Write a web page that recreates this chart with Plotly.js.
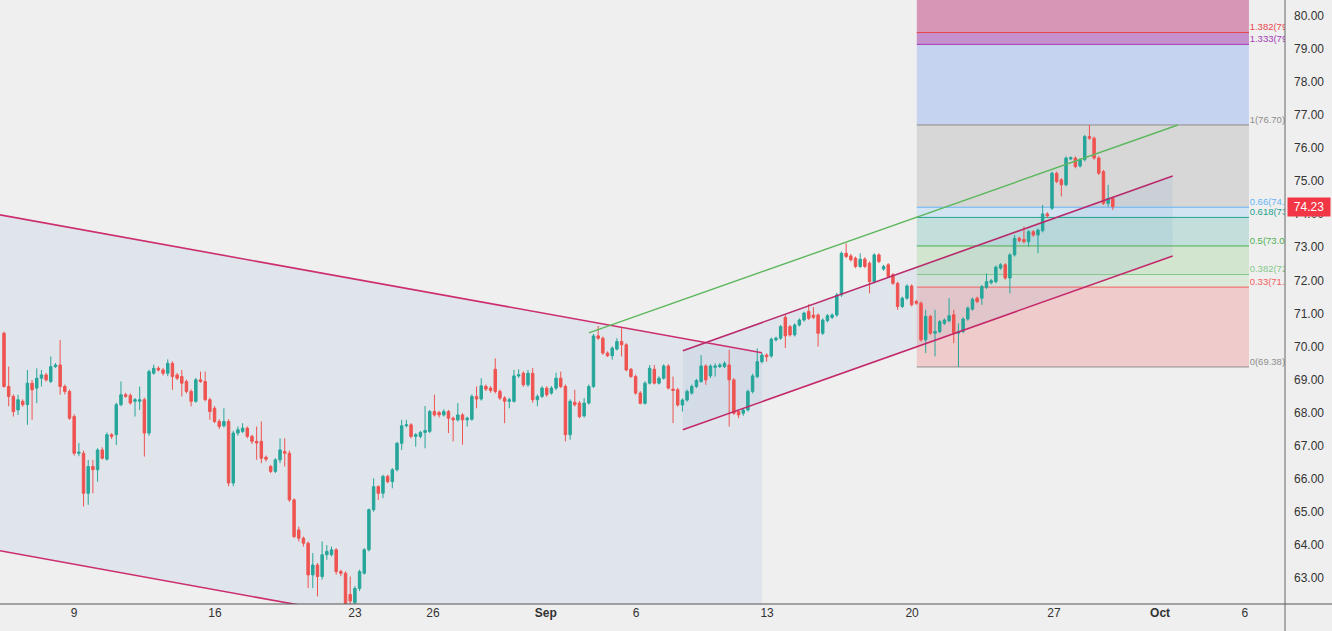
<!DOCTYPE html>
<html>
<head>
<meta charset="utf-8">
<script src="https://cdn.plot.ly/plotly-3.0.1.min.js"></script>
<style>
html,body{margin:0;padding:0;background:#efefef;}
#chart{width:1332px;height:631px;}
</style>
</head>
<body>
<div id="chart"></div>
<script>
// ---- 4h candles ----
const openP = [70.40,68.79,68.49,68.08,68.34,68.24,68.89,68.74,69.04,69.14,68.94,69.39,69.44,68.79,68.64,67.88,66.77,66.77,65.56,66.37,66.27,66.87,66.59,67.33,67.33,68.24,68.54,68.52,68.34,68.34,68.39,67.38,69.19,69.34,69.29,69.19,69.49,69.14,69.09,68.94,68.64,68.34,68.99,68.94,68.39,68.13,67.73,67.60,67.73,65.87,67.38,67.43,67.53,67.28,67.13,67.13,66.65,66.37,66.22,66.57,66.82,66.77,65.36,64.45,64.20,64.05,63.09,63.39,63.04,63.70,63.70,63.85,63.19,63.14,62.50,62.25,62.68,63.14,63.85,65.06,65.76,65.56,66.07,65.91,66.27,67.07,67.60,67.63,67.28,67.28,67.40,67.43,68.03,68.00,67.93,68.03,67.83,67.78,67.93,67.78,67.80,68.49,68.41,68.79,68.74,69.31,68.64,68.44,68.34,68.34,69.11,69.19,68.84,69.19,68.39,68.49,68.74,68.59,68.74,69.04,68.79,67.33,68.31,68.29,67.90,68.29,68.79,70.32,70.25,69.80,69.72,69.92,70.15,70.05,69.31,69.09,68.59,68.28,68.89,69.31,68.89,69.04,69.41,68.71,68.69,68.23,68.38,68.59,68.79,68.94,69.41,69.11,69.37,69.39,69.39,69.44,68.99,68.03,67.98,68.08,68.64,69.09,69.54,69.74,69.71,70.20,70.25,70.88,70.60,70.35,70.65,70.80,71.06,70.95,70.95,70.40,70.78,70.88,70.95,71.56,72.82,72.74,72.67,72.42,72.64,72.52,71.96,72.77,72.34,72.47,72.17,71.91,71.21,71.46,71.83,71.36,71.31,70.20,70.91,70.40,70.45,70.70,70.78,70.96,70.40,70.45,70.83,71.13,71.46,71.46,71.79,71.93,71.96,72.37,72.47,72.07,72.77,73.27,73.24,73.17,73.47,73.37,73.50,74.01,74.18,75.24,75.04,74.89,75.67,75.70,75.46,75.65,76.35,76.30,75.70,75.29,74.33,74.48];
const highP = [70.45,69.39,68.55,68.54,68.40,69.29,68.99,69.34,69.29,69.20,69.70,69.50,70.20,68.85,68.70,67.95,67.08,66.85,66.57,66.57,66.92,66.95,67.40,67.38,68.30,68.94,68.60,68.58,68.44,68.79,68.45,69.30,69.45,69.40,69.35,69.61,69.55,69.20,69.29,69.00,68.70,69.05,69.24,69.24,68.45,68.20,67.80,68.13,67.80,67.45,67.58,67.68,67.58,67.33,67.58,67.73,66.70,66.42,66.62,67.22,67.22,66.85,65.40,64.55,64.25,64.10,63.75,63.45,64.10,63.99,63.95,63.90,63.25,63.20,63.04,62.75,63.25,63.90,65.10,66.01,65.80,66.12,66.12,66.32,67.12,67.78,67.78,67.68,67.38,67.45,68.20,68.08,68.54,68.05,68.10,68.08,67.88,68.29,67.98,67.88,68.55,68.79,69.04,68.85,68.80,69.64,68.70,68.50,68.45,69.29,69.31,69.25,69.29,69.35,68.55,68.80,68.80,68.80,69.21,69.24,68.85,68.40,68.69,68.35,68.44,68.85,70.38,70.62,70.30,69.85,70.00,70.25,70.55,70.10,69.35,69.15,68.65,68.95,69.44,69.44,69.10,69.46,69.46,69.09,68.75,68.43,68.70,68.85,69.02,69.74,69.46,69.46,69.49,69.50,69.55,69.90,69.04,68.08,68.13,68.70,69.17,69.94,69.80,69.79,70.27,70.30,70.65,70.95,70.65,70.70,70.85,71.05,71.28,71.19,71.00,70.85,70.98,71.00,71.62,72.87,73.12,72.80,72.72,72.82,72.70,72.57,72.82,72.82,72.47,72.52,72.22,71.96,71.51,71.88,71.88,71.41,71.36,71.11,70.96,71.11,70.80,70.85,71.46,71.11,70.70,70.88,71.21,71.48,71.51,71.86,72.21,72.04,72.45,72.52,72.52,72.82,73.37,73.32,73.63,73.52,73.52,73.57,74.28,74.06,75.29,75.29,75.09,75.75,75.75,75.75,75.70,76.40,76.70,76.35,75.75,75.34,74.89,74.53];
const lowP = [68.75,68.19,67.88,67.93,68.18,67.63,67.78,68.29,68.79,68.94,68.89,69.35,68.54,68.55,67.78,66.70,66.68,65.16,65.21,65.56,65.91,66.58,66.55,67.20,67.02,68.19,68.45,68.24,67.88,68.08,66.67,67.30,69.15,69.24,69.12,69.10,68.69,68.98,68.49,68.58,68.19,68.30,68.90,68.34,67.78,67.68,67.50,67.55,65.77,65.77,67.30,67.38,67.22,67.05,66.57,66.47,66.52,66.17,66.17,66.47,66.37,65.30,64.20,64.10,63.95,62.69,62.69,62.44,62.95,63.55,63.65,63.10,63.05,62.10,62.05,62.15,62.60,63.10,63.80,65.00,65.36,65.41,65.86,65.71,66.22,66.87,67.55,67.22,66.97,67.22,66.92,67.38,67.88,67.85,67.88,67.38,67.13,67.73,67.03,67.58,67.75,68.13,68.36,68.65,68.60,68.58,68.38,67.68,68.13,68.30,69.05,68.78,68.78,68.30,68.19,68.44,68.48,68.54,68.68,68.74,67.13,67.18,68.18,67.83,67.85,68.24,68.74,70.20,69.75,69.68,69.60,69.88,69.70,69.25,69.05,68.54,68.25,68.24,68.85,68.85,68.85,69.00,68.70,67.68,68.18,68.03,68.33,68.54,68.74,68.90,68.84,69.05,69.09,69.35,69.35,67.58,67.93,67.83,67.90,68.03,68.58,69.04,69.49,69.54,69.66,70.15,70.20,69.95,70.30,70.30,70.60,70.75,70.80,70.83,70.00,70.35,70.73,70.83,70.90,71.50,72.67,72.57,72.37,72.37,72.37,71.61,71.91,72.52,72.29,72.07,71.86,71.11,71.16,71.41,71.21,71.26,70.15,69.80,70.35,69.70,70.40,70.65,70.73,70.10,69.38,70.40,70.78,71.08,71.31,71.26,71.74,71.88,71.91,72.32,72.02,71.61,72.72,73.15,73.12,73.02,73.32,72.82,73.45,73.90,74.13,74.94,74.54,74.84,75.65,75.39,75.41,75.60,76.25,75.65,75.19,74.28,74.23,74.13];
const closeP = [68.79,68.49,68.03,68.39,68.24,68.89,68.69,69.04,69.14,68.99,69.39,69.44,68.79,68.64,67.83,66.77,66.80,65.56,66.37,66.27,66.87,66.62,67.33,67.28,68.24,68.54,68.49,68.29,68.39,68.39,67.38,69.24,69.34,69.29,69.19,69.49,69.09,69.04,68.89,68.64,68.34,68.99,68.94,68.39,68.03,67.73,67.58,67.73,65.87,67.38,67.48,67.53,67.28,67.13,67.08,66.62,66.59,66.22,66.57,66.87,66.77,65.36,64.25,64.20,64.05,63.09,63.39,63.04,63.70,63.80,63.85,63.19,63.14,62.23,62.30,62.68,63.19,63.85,65.06,65.76,65.56,66.07,65.91,66.27,67.07,67.60,67.63,67.28,67.33,67.40,67.46,68.03,67.93,67.93,68.03,67.83,67.78,67.93,67.78,67.83,68.49,68.41,68.81,68.71,68.67,68.64,68.44,68.34,68.39,69.11,69.14,68.84,69.19,68.39,68.49,68.74,68.54,68.74,69.04,68.79,67.33,68.34,68.24,67.88,68.29,68.79,70.32,70.25,69.80,69.72,69.95,70.15,70.05,69.29,69.09,68.59,68.28,68.89,69.34,68.89,69.04,69.41,68.74,68.67,68.23,68.38,68.64,68.79,68.97,69.41,68.99,69.41,69.41,69.44,69.49,68.99,67.98,67.93,68.08,68.64,69.11,69.54,69.74,69.69,70.22,70.25,70.60,70.32,70.35,70.65,70.80,71.01,70.85,70.88,70.40,70.80,70.93,70.95,71.56,72.82,72.72,72.62,72.42,72.64,72.42,71.96,72.77,72.57,72.42,72.12,71.91,71.21,71.46,71.83,71.26,71.31,70.20,70.91,70.40,70.45,70.75,70.80,70.93,70.40,70.45,70.83,71.16,71.43,71.36,71.81,71.96,71.99,72.40,72.47,72.07,72.77,73.27,73.20,73.17,73.47,73.37,73.52,74.01,73.95,75.24,74.99,74.89,75.70,75.71,75.44,75.65,76.35,76.30,75.70,75.24,74.33,74.48,74.23];
const lastPrice = 74.23;

// ---- time axis labels (bar index → label) ----
const tickVals = [14.96, 45.1, 75.0, 91.7, 115.8, 135.1, 163.1, 194.1, 224.4, 247.1, 265.2];
const tickText = ['9', '16', '23', '26', '<b>Sep</b>', '6', '13', '20', '27', '<b>Oct</b>', '6'];

// ---- drawing tools: [barIndex, price] anchors ----
const descUpper = [[-0.855, 73.98], [162.0, 69.81]];
const descLower = [[-0.855, 63.82], [162.0, 59.64]];
const ascUpper = [[145.1, 69.87], [249.8, 75.16]];
const ascLower = [[145.1, 67.48], [249.8, 72.74]];
const greenLine = [[125.0, 70.41], [250.9, 76.70]];

// ---- Fibonacci retracement ----
const fibLow = 69.38, fibHigh = 76.70;
const fibStart = 195.1, fibEnd = 266.1;
const fibLevels = [0, 0.33, 0.382, 0.5, 0.618, 0.66, 1, 1.333, 1.382, 1.618];
const fibLineColors = ['#8d8d8d', '#f26060', '#86c98a', '#4caf50', '#22a091', '#64b5f6', '#8d8d8d', '#a43bb8', '#e8484d', '#d06a98'];
const fibFillColors = ['#efcbcb', '#dce9d9', '#d2e5cf', '#c2dfdc', '#d2e4f2', '#d7d7d8', '#c5d3f1', '#c690cc', '#d896b6'];

const candleX = openP.map((_, i) => i);
const fibPrices = fibLevels.map(l => fibLow + l * (fibHigh - fibLow));

const shapes = [];
// fib fills
for (let i = 0; i < fibFillColors.length; i++) {
  shapes.push({type: 'rect', xref: 'x', yref: 'y', x0: fibStart, x1: fibEnd,
    y0: fibPrices[i], y1: fibPrices[i + 1], fillcolor: fibFillColors[i], line: {width: 0}, layer: 'below'});
}
// channel fills
function poly(u, l, color) {
  return {type: 'path', xref: 'x', yref: 'y', layer: 'below', fillcolor: color, line: {width: 0},
    path: `M ${u[0][0]},${u[0][1]} L ${u[1][0]},${u[1][1]} L ${l[1][0]},${l[1][1]} L ${l[0][0]},${l[0][1]} Z`};
}
shapes.push(poly(descUpper, descLower, 'rgba(120,160,205,0.13)'));
shapes.push(poly(ascUpper, ascLower, 'rgba(120,160,205,0.13)'));
// fib level lines
for (let i = 0; i < fibLevels.length - 1; i++) {
  shapes.push({type: 'line', xref: 'x', yref: 'y', x0: fibStart, x1: fibEnd, y0: fibPrices[i], y1: fibPrices[i],
    line: {color: fibLineColors[i], width: 1}, layer: 'below'});
}
function seg(p, color, w) {
  return {type: 'line', xref: 'x', yref: 'y', x0: p[0][0], y0: p[0][1], x1: p[1][0], y1: p[1][1],
    line: {color: color, width: w}, layer: 'above'};
}
shapes.push(seg(descUpper, '#cc2e6e', 1.6));
shapes.push(seg(descLower, '#cc2e6e', 1.6));
shapes.push(seg(ascUpper, '#b82a6c', 1.6));
shapes.push(seg(ascLower, '#c4286a', 1.6));
shapes.push(seg(greenLine, '#5cb85c', 1.4));
// frame lines
shapes.push({type: 'line', xref: 'paper', yref: 'paper', x0: 1, x1: 1, y0: -0.05, y1: 1, line: {color: '#666', width: 1}});
shapes.push({type: 'line', xref: 'paper', yref: 'paper', x0: 0, x1: 1.04, y0: 0, y1: 0, line: {color: '#555', width: 1}});

const fibLabelIdx = fibLevels.slice(0, -1).map((_, i) => i);
const fibText = {
  type: 'scatter', mode: 'text', cliponaxis: true, hoverinfo: 'skip', showlegend: false,
  x: fibLabelIdx.map(() => fibEnd + 0.15),
  y: fibLabelIdx.map(i => fibPrices[i]),
  text: fibLabelIdx.map(i => `${fibLevels[i]}(${fibPrices[i].toFixed(2)})`),
  textposition: 'top right',
  textfont: {family: 'Liberation Sans, Arial, sans-serif', size: 9.5, color: fibLabelIdx.map(i => fibLineColors[i])}
};

const candles = {
  type: 'candlestick', x: candleX, open: openP, high: highP, low: lowP, close: closeP,
  increasing: {line: {color: '#26a69a', width: 1}, fillcolor: '#26a69a'},
  decreasing: {line: {color: '#ef5350', width: 1}, fillcolor: '#ef5350'},
  whiskerwidth: 0, showlegend: false, hoverinfo: 'skip'
};

const layout = {
  width: 1332, height: 631,
  margin: {l: 0, r: 47, t: 0, b: 27, pad: 0},
  paper_bgcolor: '#efefef', plot_bgcolor: '#efefef',
  showlegend: false,
  boxgap: 0.25,
  font: {family: 'Liberation Sans, Arial, sans-serif', color: '#333'},
  xaxis: {range: [-0.855, 273.8], showgrid: false, zeroline: false, tickvals: tickVals, ticktext: tickText,
    ticks: '', tickfont: {size: 12, color: '#333'}, showline: false, rangeslider: {visible: false}, fixedrange: true},
  yaxis: {side: 'right', range: [62.21, 80.48], dtick: 1, tick0: 0, tickformat: '.2f', showgrid: false,
    zeroline: false, ticks: '', ticklabelstandoff: 8, tickfont: {size: 12, color: '#333'}, showline: false, fixedrange: true},
  shapes: shapes,
  annotations: [{xref: 'paper', x: 1, xanchor: 'left', xshift: 2, yref: 'y', y: lastPrice, text: lastPrice.toFixed(2),
    showarrow: false, bgcolor: '#f23645', font: {color: '#ffffff', size: 12}, width: 40, height: 16, borderpad: 1}]
};

Plotly.newPlot('chart', [candles, fibText], layout, {displayModeBar: false, staticPlot: true});
</script>
</body>
</html>
